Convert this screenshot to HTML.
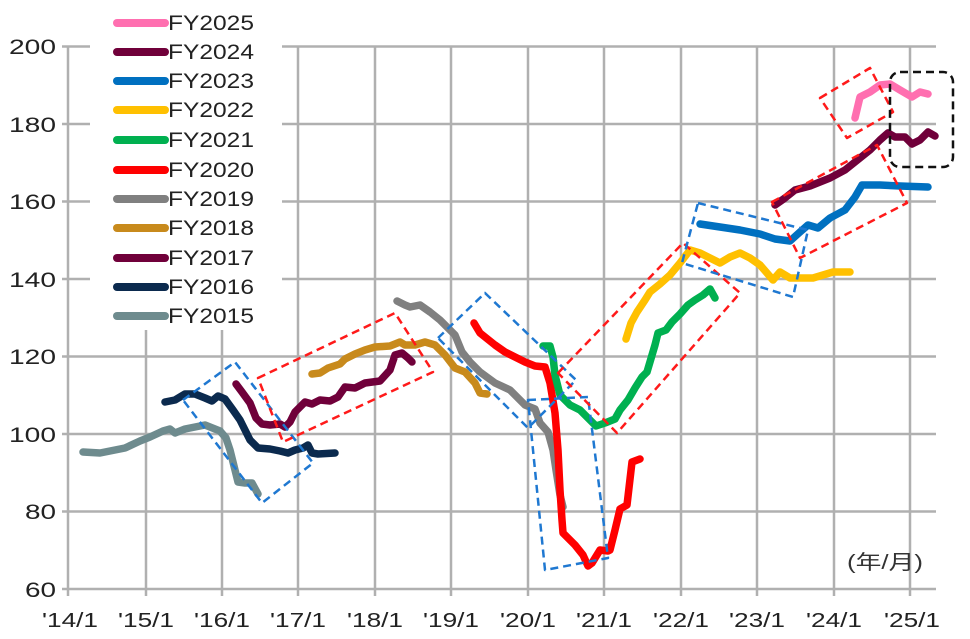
<!DOCTYPE html>
<html><head><meta charset="utf-8"><style>
html,body{margin:0;padding:0;background:#fff;}
svg{display:block;font-family:"Liberation Sans","Noto Sans CJK JP",sans-serif;}
</style></head><body>
<svg width="970" height="639" viewBox="0 0 970 639" xmlns="http://www.w3.org/2000/svg">
<g stroke="#b0b0b0" stroke-width="2.5" fill="none">
<line x1="62" y1="46.5" x2="936" y2="46.5"/><line x1="62" y1="124" x2="936" y2="124"/>
<line x1="62" y1="201.5" x2="936" y2="201.5"/><line x1="62" y1="279" x2="936" y2="279"/>
<line x1="62" y1="356.5" x2="936" y2="356.5"/><line x1="62" y1="434" x2="936" y2="434"/>
<line x1="62" y1="511.5" x2="936" y2="511.5"/><line x1="62" y1="589" x2="936" y2="589"/>
<line x1="68" y1="46" x2="68" y2="596"/>
<line x1="146" y1="46" x2="146" y2="596"/><line x1="222" y1="46" x2="222" y2="596"/>
<line x1="298" y1="46" x2="298" y2="596"/><line x1="375" y1="46" x2="375" y2="596"/>
<line x1="451" y1="46" x2="451" y2="596"/><line x1="528" y1="46" x2="528" y2="596"/>
<line x1="604" y1="46" x2="604" y2="596"/><line x1="681" y1="46" x2="681" y2="596"/>
<line x1="757" y1="46" x2="757" y2="596"/><line x1="834" y1="46" x2="834" y2="596"/>
<line x1="910" y1="46" x2="910" y2="596"/>
</g>
<rect x="90" y="0" width="192" height="330" fill="#fff"/>
<g font-size="21" fill="#222" text-anchor="end" lengthAdjust="spacingAndGlyphs">
<text x="56" y="54" textLength="47" lengthAdjust="spacingAndGlyphs">200</text><text x="56" y="132" textLength="47" lengthAdjust="spacingAndGlyphs">180</text><text x="56" y="209" textLength="47" lengthAdjust="spacingAndGlyphs">160</text>
<text x="56" y="287" textLength="47" lengthAdjust="spacingAndGlyphs">140</text><text x="56" y="364" textLength="47" lengthAdjust="spacingAndGlyphs">120</text><text x="56" y="442" textLength="47" lengthAdjust="spacingAndGlyphs">100</text>
<text x="56" y="519" textLength="31" lengthAdjust="spacingAndGlyphs">80</text><text x="56" y="597" textLength="31" lengthAdjust="spacingAndGlyphs">60</text>
</g>
<g font-size="20" fill="#222" text-anchor="middle">
<text x="70" y="627" textLength="56" lengthAdjust="spacingAndGlyphs">'14/1</text><text x="146" y="627" textLength="56" lengthAdjust="spacingAndGlyphs">'15/1</text><text x="222" y="627" textLength="56" lengthAdjust="spacingAndGlyphs">'16/1</text>
<text x="298" y="627" textLength="56" lengthAdjust="spacingAndGlyphs">'17/1</text><text x="375" y="627" textLength="56" lengthAdjust="spacingAndGlyphs">'18/1</text><text x="451" y="627" textLength="56" lengthAdjust="spacingAndGlyphs">'19/1</text>
<text x="528" y="627" textLength="56" lengthAdjust="spacingAndGlyphs">'20/1</text><text x="604" y="627" textLength="56" lengthAdjust="spacingAndGlyphs">'21/1</text><text x="681" y="627" textLength="56" lengthAdjust="spacingAndGlyphs">'22/1</text>
<text x="757" y="627" textLength="56" lengthAdjust="spacingAndGlyphs">'23/1</text><text x="834" y="627" textLength="56" lengthAdjust="spacingAndGlyphs">'24/1</text><text x="912" y="627" textLength="56" lengthAdjust="spacingAndGlyphs">'25/1</text>
</g>
<text x="885" y="569" font-size="20" fill="#333" text-anchor="middle" textLength="76" lengthAdjust="spacingAndGlyphs">(年/月)</text>
<g fill="none" stroke-width="7.5" stroke-linecap="round" stroke-linejoin="round">
<polyline stroke="#6E8B8E" points="83,452 100,453 110,451 125,448 140,441 150,437 163,431 170,429 175,433 185,429 195,427 205,425 210,427 220,431 226,438 230,450 235,470 238,482 245,483 252,483 258,494"/>
<polyline stroke="#0B2A4E" points="165,402 175,400 185,394 195,394 205,398 212,401 218,396 225,399 233,410 240,420 250,440 258,448 270,449 280,451 288,453 295,450 303,448 308,445 312,453 318,454 335,453"/>
<polyline stroke="#70003A" points="236,384 242,392 250,403 256,418 262,424 270,425 280,424 285,427 290,422 295,412 305,402 312,404 320,400 330,401 338,397 345,387 355,388 365,383 380,381 390,370 395,355 402,353 408,358 412,362"/>
<polyline stroke="#C88A1C" points="312,374 320,373 328,368 340,364 345,359 355,354 365,350 375,347 390,346 400,342 405,345 415,345 425,342 435,345 445,355 455,368 465,372 475,383 480,393 487,394"/>
<polyline stroke="#808080" points="397,301 405,305 410,307 420,305 430,312 440,320 455,335 462,352 470,362 480,372 495,383 510,390 525,405 535,409 540,423 548,432 553,450 556,470 560,495 563,507"/>
<polyline stroke="#FF0000" points="474,323 480,333 495,345 505,352 517,358 525,362 535,366 545,367 550,383 555,413 558,450 560,490 562,520 563,533 575,545 583,555 588,566 592,563 600,550 608,551 610,550 615,530 620,509 627,505 632,462 640,459"/>
<polyline stroke="#00B050" points="543,346 550,346 553,357 555,375 560,395 570,405 580,410 590,420 596,426 605,423 615,419 620,410 628,400 635,388 642,377 647,372 655,345 658,333 666,330 672,322 680,314 688,305 695,300 703,295 710,289 715,298"/>
<polyline stroke="#FFC000" points="626,339 631,323 637,312 645,300 650,292 660,284 670,275 680,263 690,250 700,253 710,258 720,263 730,257 740,253 750,258 760,265 773,280 780,272 790,278 813,278 833,272 850,272"/>
<polyline stroke="#0070C0" points="700,224 720,227 740,230 760,234 775,239 790,241 800,232 808,225 818,228 830,218 845,210 855,197 862,185 880,185 900,186 928,187"/>
<polyline stroke="#70003A" points="775,205 785,198 795,190 810,186 830,178 845,170 860,158 870,150 880,140 888,133 895,137 905,137 912,144 920,140 928,132 935,136"/>
<polyline stroke="#FF6FB0" points="855,118 860,97 870,92 880,85 890,84 900,90 912,97 920,92 928,94"/>
</g>
<g fill="none" stroke-width="2.5" stroke-dasharray="8,5" stroke-linejoin="round">
<polygon stroke="#1f78d1" points="183,400 235,362 313,463 262,503"/>
<polygon stroke="#ff1a1a" points="258,378 395,313 433,372 283,442"/>
<polygon stroke="#1f78d1" points="438,338 485,293 576,380 528,428"/>
<polygon stroke="#1f78d1" points="528,400 588,397 608,558 545,570"/>
<polygon stroke="#ff1a1a" points="558,373 683,243 740,293 617,433"/>
<polygon stroke="#1f78d1" points="698,203 808,230 793,297 682,263"/>
<polygon stroke="#ff1a1a" points="772,202 877,145 907,203 800,258"/>
<polygon stroke="#ff1a1a" points="820,98 870,68 893,112 847,138"/>
<rect stroke="#111" x="890" y="72" width="63" height="95" rx="10"/>
</g>
<g stroke-width="8" stroke-linecap="round">
<line x1="117" y1="23" x2="165" y2="23" stroke="#FF6FB0"/>
<line x1="117" y1="52" x2="165" y2="52" stroke="#70003A"/>
<line x1="117" y1="81" x2="165" y2="81" stroke="#0070C0"/>
<line x1="117" y1="110" x2="165" y2="110" stroke="#FFC000"/>
<line x1="117" y1="140" x2="165" y2="140" stroke="#00B050"/>
<line x1="117" y1="170" x2="165" y2="170" stroke="#FF0000"/>
<line x1="117" y1="199" x2="165" y2="199" stroke="#808080"/>
<line x1="117" y1="228" x2="165" y2="228" stroke="#C88A1C"/>
<line x1="117" y1="258" x2="165" y2="258" stroke="#70003A"/>
<line x1="117" y1="287" x2="165" y2="287" stroke="#0B2A4E"/>
<line x1="117" y1="316" x2="165" y2="316" stroke="#6E8B8E"/>
</g>
<g font-size="21" fill="#222">
<text x="168" y="30" textLength="86" lengthAdjust="spacingAndGlyphs">FY2025</text><text x="168" y="59" textLength="86" lengthAdjust="spacingAndGlyphs">FY2024</text><text x="168" y="88" textLength="86" lengthAdjust="spacingAndGlyphs">FY2023</text>
<text x="168" y="117" textLength="86" lengthAdjust="spacingAndGlyphs">FY2022</text><text x="168" y="147" textLength="86" lengthAdjust="spacingAndGlyphs">FY2021</text><text x="168" y="177" textLength="86" lengthAdjust="spacingAndGlyphs">FY2020</text>
<text x="168" y="206" textLength="86" lengthAdjust="spacingAndGlyphs">FY2019</text><text x="168" y="235" textLength="86" lengthAdjust="spacingAndGlyphs">FY2018</text><text x="168" y="265" textLength="86" lengthAdjust="spacingAndGlyphs">FY2017</text>
<text x="168" y="294" textLength="86" lengthAdjust="spacingAndGlyphs">FY2016</text><text x="168" y="323" textLength="86" lengthAdjust="spacingAndGlyphs">FY2015</text>
</g>
</svg>
</body></html>
